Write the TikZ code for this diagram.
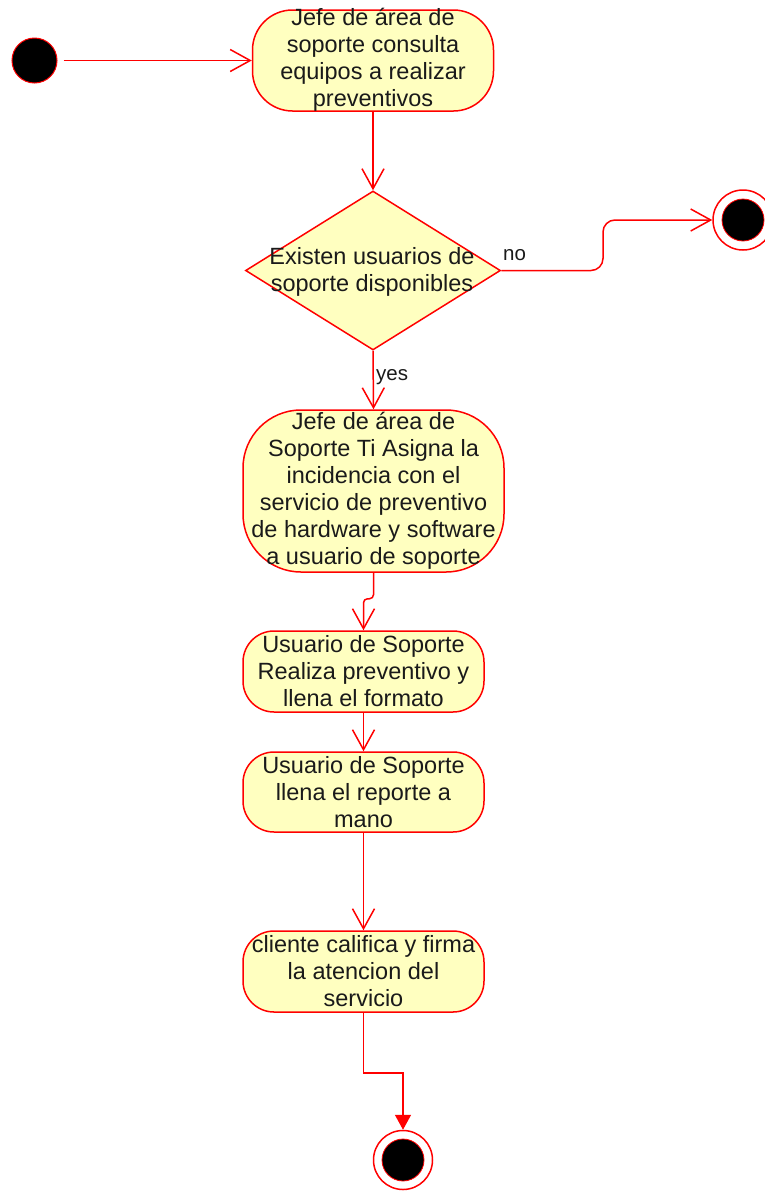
\documentclass[tikz,border=0pt]{standalone}
\usepackage{fontspec}
\setmainfont{Liberation Sans}
\usetikzlibrary{arrows.meta,shapes.geometric}
\definecolor{umlred}{HTML}{FF0000}
\definecolor{umlfill}{HTML}{FFFFC0}
\definecolor{txtc}{HTML}{1A1A1A}
\begin{document}
\begin{tikzpicture}[x=1pt,y=-1pt,
  act/.style={draw=umlred, fill=umlfill, line width=1.5pt, rectangle, inner sep=0pt},
  dec/.style={draw=umlred, fill=umlfill, line width=1.5pt, diamond, inner sep=0pt},
  txt/.style={text=txtc, align=center, font=\fontsize{23.5}{27}\selectfont, inner sep=0pt},
  lbl/.style={text=txtc, font=\fontsize{20.5}{24}\selectfont, inner sep=0pt},
  flow/.style={draw=umlred, line width=1.5pt, -{Straight Barb[length=20pt,width=22pt]}},
  startnode/.style={circle, draw=umlred, fill=black, line width=1pt, minimum size=45pt, inner sep=0pt},
  endnode/.style={circle, draw=umlred, fill=white, line width=1.5pt, inner sep=0pt,
    path picture={\fill[black, draw=umlred, line width=0.8pt] (path picture bounding box.center) circle[radius=21pt];}}
]
\useasboundingbox (0,0) rectangle (764,1192);

\node[startnode] (start) at (34.5,60.5) {};

\node[act, rounded corners=40pt, minimum width=241pt, minimum height=101pt] (n1) at (373,60.5) {};
\node[txt] (t1) at ([yshift=1pt]n1.center) {Jefe de área de\\soporte consulta\\equipos a realizar\\preventivos};

\node[dec, minimum width=255pt, minimum height=159pt] (d) at (373,270.5) {};
\node[txt] (td) at (372,272) {Existen usuarios de\\soporte disponibles};

\node[endnode, minimum size=60pt] (end1) at (743,220) {};

\node[act, rounded corners=58pt, minimum width=261pt, minimum height=162pt] (n3) at (373.5,491) {};
\node[txt] (t3) at (n3.center) {Jefe de área de\\Soporte Ti Asigna la\\incidencia con el\\servicio de preventivo\\de hardware y software\\a usuario de soporte};

\node[act, rounded corners=31pt, minimum width=241pt, minimum height=81pt] (n4) at (363.5,671.5) {};
\node[txt] (t4) at (n4.center) {Usuario de Soporte\\Realiza preventivo y\\llena el formato};

\node[act, rounded corners=31pt, minimum width=241pt, minimum height=80pt] (n5) at (363.5,792) {};
\node[txt] (t5) at (n5.center) {Usuario de Soporte\\llena el reporte a\\mano};

\node[act, rounded corners=31pt, minimum width=241pt, minimum height=81pt] (n6) at (363.5,971.5) {};
\node[txt] (t6) at (n6.center) {cliente califica y firma\\la atencion del\\servicio};

\node[endnode, minimum size=59pt] (end2) at (403,1160) {};

\node[lbl, anchor=west] (lno) at (503,255) {no};
\node[lbl, anchor=west] (lyes) at (376,377) {yes};

\draw[flow, shorten <=6pt] (start) -- (n1.west);
\draw[flow] (n1.south) -- (d.north);
\draw[flow, rounded corners=12pt] (d.east) -- (603,270.5) |- (end1);
\draw[flow] (d.south) -- (n3.north);
\draw[flow, rounded corners=4pt] (n3.south) -- ++(0,26) -| (n4.north);
\draw[flow] (n4.south) -- (n5.north);
\draw[flow] (n5.south) -- (n6.north);
\draw[draw=umlred, line width=1.5pt, -{Triangle[length=15pt,width=16pt]}] (n6.south) -- ++(0,60) -| (end2);
\end{tikzpicture}
\end{document}
